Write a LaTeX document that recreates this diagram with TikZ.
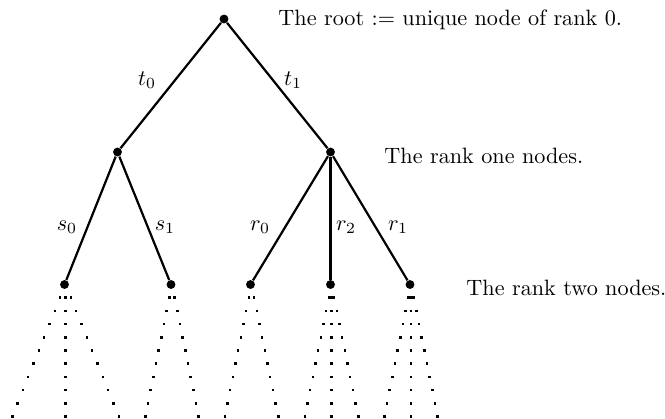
\documentclass[tikz,border=0pt]{standalone}
\begin{document}
\begin{tikzpicture}[x=0.4505pt,y=-0.4505pt,
  vtx/.style={circle,fill=black,inner sep=0pt,minimum size=4pt},
  edge/.style={line width=1pt},
  lbl/.style={inner sep=0pt},
  note/.style={anchor=west,inner sep=0pt}]
\useasboundingbox (0,0) rectangle (665,418);
\clip (0,0) rectangle (665,418);
\node[vtx] (root) at (224,19) {};
\node[vtx] (a) at (117.5,152) {};
\node[vtx] (b) at (330.5,152) {};
\node[vtx] (a0) at (64.5,284.5) {};
\node[vtx] (a1) at (171,284.5) {};
\node[vtx] (b0) at (250.5,284.5) {};
\node[vtx] (b2) at (330.5,284.5) {};
\node[vtx] (b1) at (410,284.5) {};
\draw[edge] (root) -- (a);
\draw[edge] (root) -- (b);
\draw[edge] (a) -- (a0);
\draw[edge] (a) -- (a1);
\draw[edge] (b) -- (b0);
\draw[edge] (b) -- (b2);
\draw[edge] (b) -- (b1);
\node[lbl] (lt0) at (147,80) {$t_0$};
\node[lbl] (lt1) at (293,80) {$t_1$};
\node[lbl] (ls0) at (67,227) {$s_0$};
\node[lbl] (ls1) at (165,227) {$s_1$};
\node[lbl] (lr0) at (260,227) {$r_0$};
\node[lbl] (lr2) at (346,227) {$r_2$};
\node[lbl] (lr1) at (398,227) {$r_1$};
\node[note] (n0) at (278,20) {The root $:=$ unique node of rank 0.};
\node[note] (n1) at (384,156) {The rank one nodes.};
\node[note] (n2) at (466,288) {The rank two nodes.};
\foreach \x/\d/\ks in {64.5/5.33/{-1,0,1}, 171/2.67/{-1,1}, 250.5/2.67/{-1,1}, 330.5/2.67/{-1,0,1}, 410/2.67/{-1,0,1}}{
  \foreach \k in \ks {
    \foreach \i in {1,...,10}{
      \fill ({\x+1+\k*\i*\d-1.3},{284.5+13.2*\i-1.3}) rectangle +(2.6,2.6);
    }
  }
}
\end{tikzpicture}
\end{document}
